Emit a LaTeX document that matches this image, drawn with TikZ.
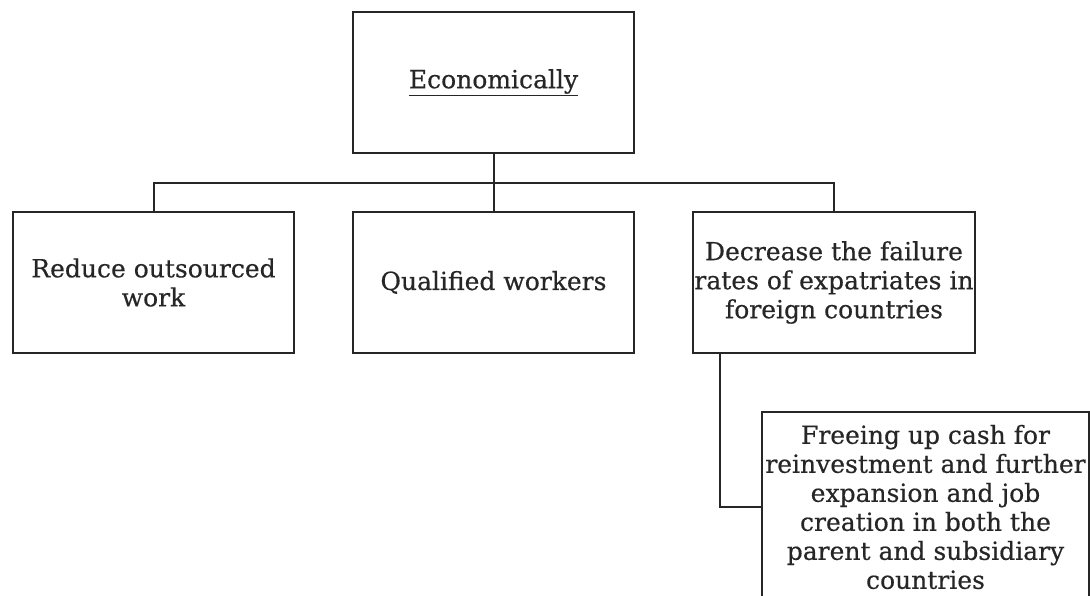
\documentclass[tikz,border=0pt]{standalone}
\usepackage{fontspec}
\setmainfont{DejaVu Serif}
\newfontfamily\boxfont[FakeBold=0.4]{DejaVu Serif}
\begin{document}
\begin{tikzpicture}[x=1pt,y=-1pt,
  box/.style={draw=black!85, line width=2pt, fill=white, inner sep=0pt, align=center,
    text=black!85, font=\boxfont\fontsize{25}{29}\selectfont},
  conn/.style={draw=black!85, line width=2pt}]
\useasboundingbox (0,0) rectangle (1090,596);
\clip (0,0) rectangle (1090,596);
\node[box, minimum width=281pt, minimum height=141pt] (top) at (493.5,82.5) {\underline{Economically}};
\node[box, minimum width=281pt, minimum height=141pt] (b1) at (153.5,282.5) {Reduce outsourced\\work};
\node[box, minimum width=281pt, minimum height=141pt] (b2) at (493.5,282.5) {Qualified workers};
\node[box, minimum width=282pt, minimum height=141pt] (b3) at (834,282.5) {Decrease the failure\\rates of expatriates in\\foreign countries};
\node[box, minimum width=327pt, minimum height=190pt] (b4) at (925.5,507) {Freeing up cash for\\reinvestment and further\\expansion and job\\creation in both the\\parent and subsidiary\\countries};
\coordinate (bus) at (493.5,183);
\draw[conn] (top.south) -- (b2.north);
\draw[conn] (b1.north) |- (bus) -| (b3.north);
\draw[conn] ([xshift=28pt]b3.south west) |- (b4.west);
\end{tikzpicture}
\end{document}
